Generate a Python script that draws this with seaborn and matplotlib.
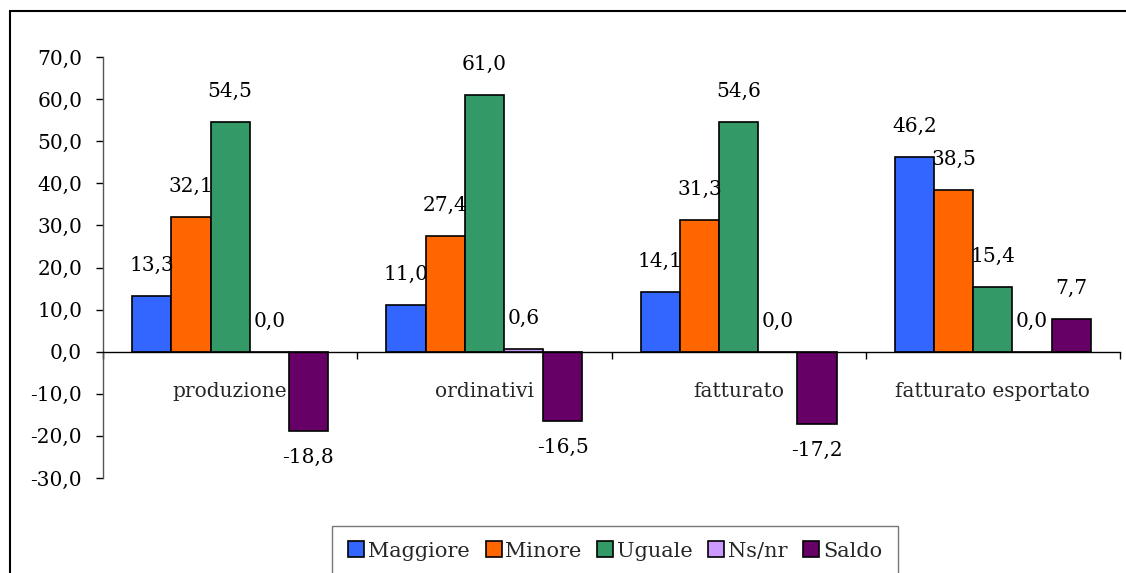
import matplotlib
matplotlib.use("Agg")
import matplotlib.pyplot as plt
from matplotlib.patches import Rectangle
from matplotlib.lines import Line2D
import numpy as np
import pandas as pd
import seaborn as sns

# ── Data ─────────────────────────────────────────────────────────────────────
categorie = ["produzione", "ordinativi", "fatturato", "fatturato esportato"]
serie = ["Maggiore", "Minore", "Uguale", "Ns/nr", "Saldo"]
maggiore = [13.3, 11.0, 14.1, 46.2]
minore = [32.1, 27.4, 31.3, 38.5]
uguale = [54.5, 61.0, 54.6, 15.4]
ns_nr = [0.0, 0.6, 0.0, 0.0]
saldo = [-18.8, -16.5, -17.2, 7.7]
y_ticks = [-30, -20, -10, 0, 10, 20, 30, 40, 50, 60, 70]

COLORS = ["#3366FF", "#FF6600", "#339966", "#CC99FF", "#660066"]

values = {"Maggiore": maggiore, "Minore": minore, "Uguale": uguale,
          "Ns/nr": ns_nr, "Saldo": saldo}
df = pd.DataFrame([
    {"categoria": c, "serie": s, "valore": values[s][i]}
    for s in serie for i, c in enumerate(categorie)
])

sns.set_style("ticks")
plt.rcParams["font.family"] = ["DejaVu Serif", "Liberation Serif"]
FS = 14.5

fig = plt.figure(figsize=(11.26, 5.73), dpi=100)
ax = fig.add_axes([103 / 1126, 1 - 478 / 573, 1017 / 1126, 421 / 573])

sns.barplot(data=df, x="categoria", y="valore", hue="serie", order=categorie,
            hue_order=serie, palette=COLORS, saturation=1, width=0.77,
            edgecolor="black", linewidth=1.2, errorbar=None, ax=ax, legend=False)

# value labels above / below each bar
for cont, s in zip(ax.containers, serie):
    for bar, v in zip(cont, values[s]):
        xc = bar.get_x() + bar.get_width() / 2
        off = 22 if v >= 0 else -19
        ax.annotate(f"{v:.1f}".replace(".", ","), (xc, v), xytext=(0, off),
                    textcoords="offset points", ha="center", va="center",
                    fontsize=FS, color="black")

ax.set_ylim(-30, 70)
ax.set_xlim(-0.5, 3.5)
ax.set_yticks(y_ticks)
ax.set_yticklabels([f"{t:.1f}".replace(".", ",") for t in y_ticks], fontsize=FS)
ax.set_xticks([-0.5, 0.5, 1.5, 2.5, 3.5])
ax.set_xticklabels([])
ax.tick_params(axis="y", direction="out", length=5, width=1, pad=10, colors="black")
ax.tick_params(axis="x", direction="out", length=5, width=1, colors="black")
ax.set_xlabel("")
ax.set_ylabel("")
for sp in ["top", "right"]:
    ax.spines[sp].set_visible(False)
ax.spines["bottom"].set_position(("data", 0))
ax.spines["left"].set_color("#555555")
ax.spines["bottom"].set_color("black")
ax.spines["left"].set_linewidth(1)
ax.spines["bottom"].set_linewidth(1)

for i, c in enumerate(categorie):
    ax.text(i, -9.5, c, ha="center", va="center", fontsize=FS)

# legend
handles = [Line2D([], [], marker="s", ls="", markersize=12, markerfacecolor=col,
                  markeredgecolor="black", markeredgewidth=1.2) for col in COLORS]
leg = fig.legend(handles, serie, loc="upper center", bbox_to_anchor=(615 / 1126, 1 - 526 / 573),
                 ncol=5, fontsize=15, frameon=True, fancybox=False, borderpad=0.75,
                 handlelength=0.8, handletextpad=0.15, columnspacing=0.75,
                 borderaxespad=0)
leg.get_frame().set_edgecolor("#555555")
leg.get_frame().set_linewidth(1)

# outer chart frame
fig.patches.append(Rectangle((10 / 1126, -0.2), 1.2, 1 - 11 / 573 + 0.2,
                             transform=fig.transFigure, fill=False,
                             edgecolor="black", linewidth=1.5))

fig.savefig("out.png", dpi=100)
plt.close(fig)
